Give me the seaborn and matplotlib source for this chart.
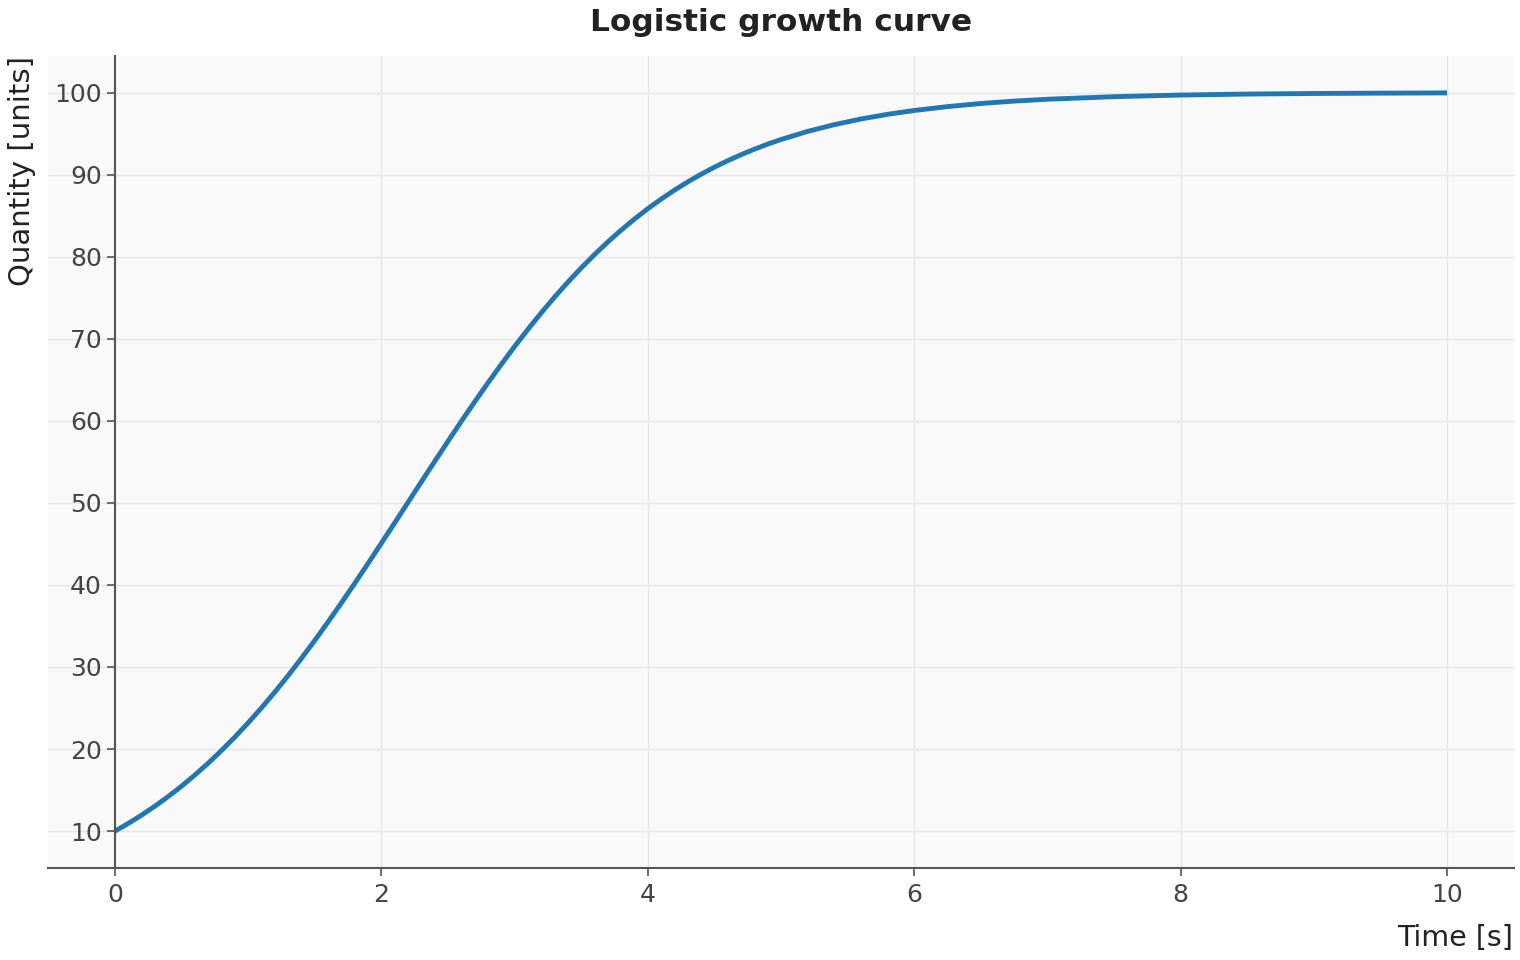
import matplotlib
matplotlib.use("Agg")
import matplotlib.pyplot as plt
import seaborn as sns
import pandas as pd

# Values
time_s = [0.0, 0.1, 0.2, 0.3, 0.4, 0.5, 0.6, 0.7, 0.8, 0.9,
          1.0, 1.1, 1.2, 1.3, 1.4, 1.5, 1.6, 1.7, 1.8, 1.9,
          2.0, 2.1, 2.2, 2.3, 2.4, 2.5, 2.6, 2.7, 2.8, 2.9,
          3.0, 3.1, 3.2, 3.3, 3.4, 3.5, 3.6, 3.7, 3.8, 3.9,
          4.0, 4.1, 4.2, 4.3, 4.4, 4.5, 4.6, 4.7, 4.8, 4.9,
          5.0, 5.2, 5.4, 5.6, 5.8, 6.0, 6.25, 6.5, 6.75, 7.0,
          7.5, 8.0, 8.5, 9.0, 9.5, 10.0]
quantity = [10.00, 10.94, 11.95, 13.04, 14.22, 15.48, 16.84, 18.28, 19.83, 21.46,
            23.20, 25.03, 26.95, 28.96, 31.06, 33.24, 35.50, 37.82, 40.20, 42.62,
            45.09, 47.57, 50.07, 52.57, 55.05, 57.51, 59.94, 62.31, 64.63, 66.88,
            69.06, 71.15, 73.16, 75.08, 76.90, 78.63, 80.26, 81.80, 83.24, 84.59,
            85.85, 87.02, 88.11, 89.12, 90.05, 90.91, 91.70, 92.43, 93.10, 93.72,
            94.28, 95.27, 96.09, 96.78, 97.35, 97.82, 98.29, 98.67, 98.96, 99.19,
            99.50, 99.70, 99.82, 99.89, 99.93, 99.96]
x_ticks = [0, 2, 4, 6, 8, 10]
y_ticks = [10, 20, 30, 40, 50, 60, 70, 80, 90, 100]

df = pd.DataFrame({"Time": time_s, "Quantity": quantity})

sns.set_theme(style="whitegrid")
plt.rcParams["font.family"] = ["DejaVu Sans"]

fig = plt.figure(figsize=(15.2, 9.6), dpi=100)
ax = fig.add_axes([48.4 / 1520, 1 - 868 / 960, (1513.6 - 48.4) / 1520, (868 - 56) / 960])
ax.set_facecolor("#f9f9f9")

sns.lineplot(data=df, x="Time", y="Quantity", ax=ax, color="#1f77b4",
             linewidth=3.5, solid_capstyle="butt")

ax.set_xticks(x_ticks)
ax.set_yticks(y_ticks)
ax.margins(x=0.05, y=0.05)
ax.grid(True, color="#e6e6e6", linewidth=1.0)

for s in ["top", "right"]:
    ax.spines[s].set_visible(False)
ax.spines["left"].set_position(("data", 0))
for s in ["left", "bottom"]:
    ax.spines[s].set_color("#555555")
    ax.spines[s].set_linewidth(1.5)

ax.tick_params(axis="both", which="major", direction="out", length=6, width=1.2,
               color="#555555", labelsize=18, labelcolor="#444444", left=True, bottom=True)
ax.tick_params(axis="x", pad=5)

ax.set_xlabel("Time [s]", fontsize=20.5, color="#222222", loc="right", labelpad=12)
ax.set_ylabel("Quantity [units]", fontsize=21, color="#222222", loc="top", labelpad=13)
ax.set_title("Logistic growth curve", fontsize=22.5, fontweight="bold", color="#222222", pad=18)

fig.savefig("out.png", dpi=100)
